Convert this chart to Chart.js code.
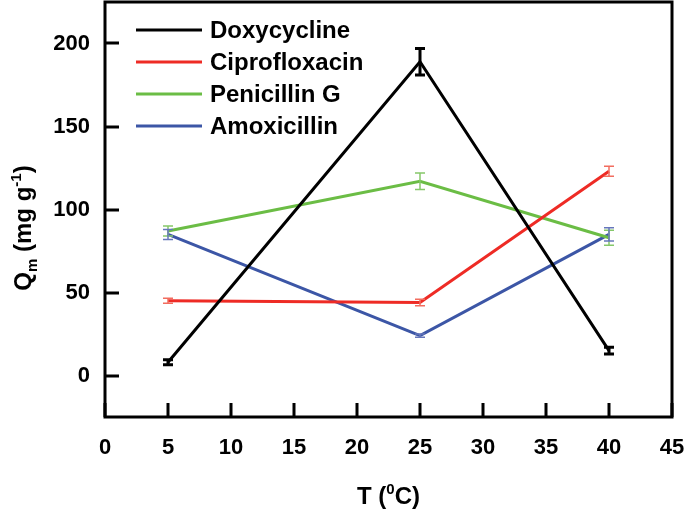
<!DOCTYPE html>
<html>
<head>
<meta charset="utf-8">
<script src="https://cdn.jsdelivr.net/npm/chart.js@4/dist/chart.umd.min.js"></script>
<style>
  html, body { margin: 0; padding: 0; background: #fff; }
  #wrap { width: 685px; height: 509px; }
</style>
</head>
<body>
<div id="wrap"><canvas id="qm-chart" width="685" height="509"></canvas></div>
<script>
// ====== DATA ======
const temps = [5, 25, 40];
const seriesNames = ['Doxycycline', 'Ciprofloxacin', 'Penicillin G', 'Amoxicillin'];
const doxycycline = [8, 189, 15];
const ciprofloxacin = [45, 44, 123];
const penicillinG = [87, 117, 83];
const amoxicillin = [85, 24, 85];
const doxyErr = [1.5, 8, 2];
const ciproErr = [1.5, 2, 3];
const penErr = [3, 5, 4.5];
const amoxErr = [3, 1, 4];
const xTicks = [0, 5, 10, 15, 20, 25, 30, 35, 40, 45];
const yTicks = [0, 50, 100, 150, 200];

const lineColors = ['#000000', '#ee2b25', '#6bbd45', '#3c56a6'];
const errColors = ['#000000', '#f26d5f', '#86c86a', '#6677bb'];
const FONT = '"Liberation Sans", Arial, sans-serif';

function toPoints(vals) {
    return temps.map((t, i) => ({ x: t, y: vals[i] }));
}

const allVals = [doxycycline, ciprofloxacin, penicillinG, amoxicillin];
const allErrs = [doxyErr, ciproErr, penErr, amoxErr];

// ====== PLUGIN: frame, inward ticks, error bars, legend, titles ======
const decorPlugin = {
    id: 'decor',
    afterDatasetsDraw(chart) {
        const ctx = chart.ctx;
        const xs = chart.scales.x;
        const ys = chart.scales.y;

        // error bars
        chart.data.datasets.forEach((ds, di) => {
            const errs = allErrs[di];
            const isBlack = di === 0;
            ctx.save();
            ctx.strokeStyle = errColors[di];
            ctx.lineWidth = isBlack ? 3 : 1.5;
            ds.data.forEach((p, i) => {
                const px = xs.getPixelForValue(p.x);
                const top = ys.getPixelForValue(p.y + errs[i]);
                const bot = ys.getPixelForValue(p.y - errs[i]);
                const cw = 5;
                ctx.beginPath();
                ctx.moveTo(px, top); ctx.lineTo(px, bot);
                ctx.moveTo(px - cw, top); ctx.lineTo(px + cw, top);
                ctx.moveTo(px - cw, bot); ctx.lineTo(px + cw, bot);
                ctx.stroke();
            });
            ctx.restore();
        });
    },
    afterDraw(chart) {
        const ctx = chart.ctx;
        const a = chart.chartArea;
        const xs = chart.scales.x;
        const ys = chart.scales.y;

        ctx.save();
        ctx.strokeStyle = '#000';
        ctx.lineWidth = 3;
        ctx.strokeRect(a.left, a.top, a.right - a.left, a.bottom - a.top);

        // inward ticks
        const tl = 14;
        ctx.beginPath();
        xTicks.forEach(v => {
            const px = Math.round(xs.getPixelForValue(v));
            ctx.moveTo(px, a.bottom); ctx.lineTo(px, a.bottom - tl);
        });
        yTicks.forEach(v => {
            const py = Math.round(ys.getPixelForValue(v));
            ctx.moveTo(a.left, py); ctx.lineTo(a.left + tl, py);
        });
        ctx.stroke();

        // legend
        ctx.font = 'bold 24px ' + FONT;
        ctx.textBaseline = 'middle';
        ctx.textAlign = 'left';
        seriesNames.forEach((name, i) => {
            const y = a.top + 28 + i * 32;
            ctx.strokeStyle = lineColors[i];
            ctx.lineWidth = 3;
            ctx.beginPath();
            ctx.moveTo(a.left + 31, y);
            ctx.lineTo(a.left + 97, y);
            ctx.stroke();
            ctx.fillStyle = '#000';
            ctx.fillText(name, a.left + 105, y + 1);
        });

        // x title: T (0C)
        ctx.fillStyle = '#000';
        ctx.textBaseline = 'alphabetic';
        const big = 'bold 24px ' + FONT;
        const small = 'bold 15px ' + FONT;
        const xParts = [['T (', big, 0], ['0', small, -10], ['C)', big, 0]];
        drawParts(ctx, xParts, (a.left + a.right) / 2, 504);

        // y title: Qm (mg g-1)
        const yParts = [['Q', big, 0], ['m', small, 6], [' (mg g', big, 0], ['-1', small, -10], [')', big, 0]];
        ctx.save();
        ctx.translate(31, 228);
        ctx.rotate(-Math.PI / 2);
        drawParts(ctx, yParts, 0, 0);
        ctx.restore();

        ctx.restore();
    }
};

function drawParts(ctx, parts, cx, baseY) {
    let total = 0;
    parts.forEach(p => { ctx.font = p[1]; total += ctx.measureText(p[0]).width; });
    let x = cx - total / 2;
    ctx.textAlign = 'left';
    parts.forEach(p => {
        ctx.font = p[1];
        ctx.fillText(p[0], x, baseY + p[2]);
        x += ctx.measureText(p[0]).width;
    });
}

function noPad(s) {
    s.paddingTop = 0;
    s.paddingBottom = 0;
    s.paddingLeft = 0;
    s.paddingRight = 0;
}

// ====== CHART ======
const chartInstance = new Chart(document.getElementById('qm-chart'), {
    type: 'line',
    data: {
        datasets: allVals.map((vals, i) => ({
            label: seriesNames[i],
            data: toPoints(vals),
            borderColor: lineColors[i],
            backgroundColor: lineColors[i],
            borderWidth: 3,
            pointRadius: 0,
            tension: 0,
            fill: false
        }))
    },
    options: {
        responsive: false,
        animation: false,
        layout: { padding: { top: 2, right: 13, left: 0, bottom: 0 } },
        plugins: {
            legend: { display: false },
            tooltip: { enabled: false }
        },
        scales: {
            x: {
                type: 'linear',
                min: 0,
                max: 45,
                afterBuildTicks: s => { s.ticks = xTicks.map(v => ({ value: v })); },
                afterFit: s => { s.height = 92; noPad(s); },
                grid: { display: false, drawTicks: false },
                border: { display: false },
                ticks: {
                    color: '#000',
                    padding: 18,
                    maxRotation: 0,
                    font: { family: FONT, size: 22, weight: 'bold' }
                }
            },
            y: {
                type: 'linear',
                min: -25,
                max: 225,
                afterBuildTicks: s => { s.ticks = yTicks.map(v => ({ value: v })); },
                afterFit: s => { s.width = 105; noPad(s); },
                grid: { display: false, drawTicks: false },
                border: { display: false },
                ticks: {
                    color: '#000',
                    padding: 15,
                    font: { family: FONT, size: 22, weight: 'bold' }
                }
            }
        }
    },
    plugins: [decorPlugin]
});
</script>
</body>
</html>
